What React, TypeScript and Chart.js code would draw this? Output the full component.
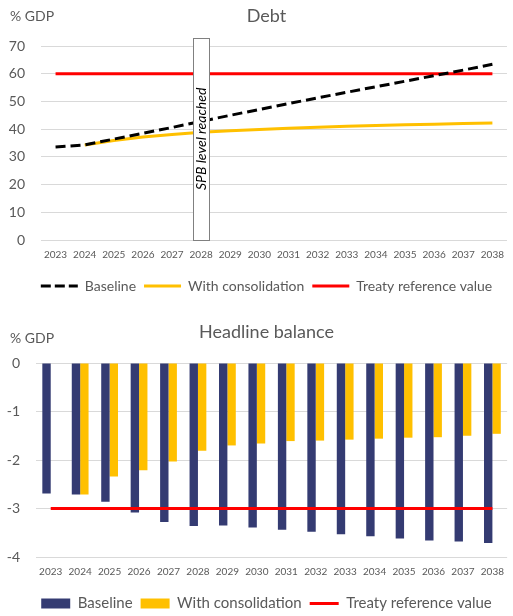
import React, { useEffect, useRef } from 'react';
import { Chart, registerables } from 'chart.js';

Chart.register(...registerables);
Chart.defaults.font.family = 'Lato';

const YEARS = ['2023', '2024', '2025', '2026', '2027', '2028', '2029', '2030', '2031', '2032', '2033', '2034', '2035', '2036', '2037', '2038'];

// Debt (% GDP)
const DEBT_BASELINE = [33.6, 34.3, 36.4, 38.5, 40.6, 42.8, 45.0, 47.1, 49.2, 51.3, 53.3, 55.3, 57.3, 59.3, 61.3, 63.4];
const DEBT_CONSOLIDATION = [null, 34.3, 35.9, 37.2, 38.1, 38.9, 39.4, 39.9, 40.3, 40.7, 41.0, 41.3, 41.6, 41.8, 42.0, 42.2];
const DEBT_TREATY = [60, 60, 60, 60, 60, 60, 60, 60, 60, 60, 60, 60, 60, 60, 60, 60];

// Headline balance (% GDP)
const BAL_BASELINE = [-2.69, -2.71, -2.86, -3.08, -3.28, -3.36, -3.35, -3.39, -3.44, -3.48, -3.53, -3.57, -3.62, -3.66, -3.68, -3.71];
const BAL_CONSOLIDATION = [null, -2.71, -2.34, -2.21, -2.03, -1.81, -1.70, -1.66, -1.61, -1.60, -1.58, -1.56, -1.54, -1.53, -1.50, -1.46];
const BAL_TREATY = [-3, -3, -3, -3, -3, -3, -3, -3, -3, -3, -3, -3, -3, -3, -3, -3];

const DEBT_TICKS = { min: 0, max: 70, step: 10 };
const BAL_TICKS = { min: -4, max: 0, step: 1 };

const SPB_YEAR = '2028';
const SPB_LABEL = 'SPB level reached';
const SPB_BOX_TOP = 73;

const UNIT = '% GDP';
const TEXT = '#595959';
const NAVY = '#343B72';
const GOLD = '#FFC000';
const RED = '#FF0000';
const GRID = '#D9D9D9';

const unitLabelPlugin = {
  id: 'unitLabel',
  afterLayout(chart: any) {
    // let the y tick labels use the whole left margin (avoid clipping)
    if (chart.scales.y) chart.scales.y.left = 0;
  },
  afterDraw(chart: any, _args: any, opts: any) {
    const { ctx } = chart;
    ctx.save();
    ctx.font = '14px Lato';
    ctx.fillStyle = TEXT;
    ctx.textAlign = 'left';
    ctx.textBaseline = 'middle';
    ctx.fillText(opts.text, opts.x, opts.y);
    ctx.restore();
  },
};

const spbBoxPlugin = {
  id: 'spbBox',
  afterDatasetsDraw(chart: any) {
    const { ctx, scales } = chart;
    const idx = YEARS.indexOf(SPB_YEAR);
    const cx = scales.x.getPixelForValue(idx);
    const top = scales.y.getPixelForValue(SPB_BOX_TOP);
    const bottom = scales.y.getPixelForValue(0);
    const w = 16;
    ctx.save();
    ctx.fillStyle = '#FFFFFF';
    ctx.fillRect(cx - w / 2, top, w, bottom - top);
    ctx.strokeStyle = '#808080';
    ctx.lineWidth = 1;
    ctx.strokeRect(Math.round(cx - w / 2) + 0.5, Math.round(top) + 0.5, w, Math.round(bottom - top));
    ctx.translate(cx, (top + bottom) / 2);
    ctx.rotate(-Math.PI / 2);
    ctx.font = 'italic 14px Lato';
    ctx.fillStyle = '#000000';
    ctx.textAlign = 'center';
    ctx.textBaseline = 'middle';
    ctx.fillText(SPB_LABEL, 0, 0);
    ctx.restore();
  },
};

function legendLabels(items: any[]) {
  return (chart: any) =>
    chart.data.datasets.map((ds: any, i: number) => ({
      text: ds.label,
      fillStyle: items[i].fill,
      strokeStyle: items[i].stroke,
      lineWidth: items[i].lineWidth,
      lineDash: items[i].dash || [],
      lineCap: 'butt',
      pointStyle: items[i].style,
      datasetIndex: i,
      hidden: false,
      fontColor: TEXT,
    }));
}

export default function App() {
  const topRef = useRef<HTMLCanvasElement>(null);
  const botRef = useRef<HTMLCanvasElement>(null);

  useEffect(() => {
    const top = new Chart(topRef.current as HTMLCanvasElement, {
      type: 'line',
      data: {
        labels: YEARS,
        datasets: [
          { label: 'Baseline', data: DEBT_BASELINE, borderColor: '#000000', borderWidth: 3, borderDash: [10, 5], pointRadius: 0, tension: 0, fill: false },
          { label: 'With consolidation', data: DEBT_CONSOLIDATION as any, borderColor: GOLD, borderWidth: 3, pointRadius: 0, tension: 0, fill: false },
          { label: 'Treaty reference value', data: DEBT_TREATY, borderColor: RED, borderWidth: 3, pointRadius: 0, tension: 0, fill: false },
        ],
      },
      options: {
        responsive: false,
        animation: false,
        events: [],
        layout: { padding: { left: 20, right: 0, top: 0, bottom: 0 } },
        plugins: {
          title: { display: true, text: 'Debt', color: TEXT, font: { size: 18, weight: 'normal' }, padding: { top: 5, bottom: 19.4 } },
          legend: {
            position: 'bottom',
            labels: {
              usePointStyle: true,
              pointStyleWidth: 37,
              boxHeight: 3,
              padding: 8,
              color: TEXT,
              font: { size: 14 },
              generateLabels: legendLabels([
                { fill: '#000000', stroke: '#000000', lineWidth: 3, dash: [10, 4], style: 'line' },
                { fill: GOLD, stroke: GOLD, lineWidth: 3, style: 'line' },
                { fill: RED, stroke: RED, lineWidth: 3, style: 'line' },
              ]),
            },
          },
          tooltip: { enabled: false },
          unitLabel: { text: UNIT, x: 10, y: 16 },
        } as any,
        scales: {
          x: {
            offset: true,
            grid: { display: false, drawTicks: false },
            border: { display: false },
            ticks: { color: TEXT, font: { size: 10 }, padding: 9, maxRotation: 0, autoSkip: false },
            afterFit: (s: any) => { s.height = 31; },
          },
          y: {
            min: DEBT_TICKS.min,
            max: DEBT_TICKS.max,
            ticks: { stepSize: DEBT_TICKS.step, color: TEXT, font: { size: 14 }, padding: 16 },
            grid: { color: GRID, drawTicks: false },
            border: { display: false },
            afterFit: (s: any) => { s.width = 21; },
          },
        },
      },
      plugins: [unitLabelPlugin, spbBoxPlugin],
    });

    const bot = new Chart(botRef.current as HTMLCanvasElement, {
      type: 'bar',
      data: {
        labels: YEARS,
        datasets: [
          { type: 'bar', label: 'Baseline', data: BAL_BASELINE, backgroundColor: NAVY, borderWidth: 0, order: 1, categoryPercentage: 0.57, barPercentage: 1 },
          { type: 'bar', label: 'With consolidation', data: BAL_CONSOLIDATION as any, backgroundColor: GOLD, borderWidth: 0, order: 1, categoryPercentage: 0.57, barPercentage: 1 },
          { type: 'line', label: 'Treaty reference value', data: BAL_TREATY, borderColor: RED, borderWidth: 3, pointRadius: 0, fill: false, order: 0 } as any,
        ],
      },
      options: {
        responsive: false,
        animation: false,
        events: [],
        layout: { padding: { left: 20, right: 0, top: 0, bottom: 0 } },
        plugins: {
          title: { display: true, text: 'Headline balance', color: TEXT, font: { size: 18, weight: 'normal' }, padding: { top: 18.5, bottom: 19.9 } },
          legend: {
            position: 'bottom',
            labels: {
              usePointStyle: true,
              pointStyleWidth: 29,
              boxHeight: 10,
              padding: 8,
              color: TEXT,
              font: { size: 15 },
              generateLabels: legendLabels([
                { fill: NAVY, stroke: NAVY, lineWidth: 0, style: 'rect' },
                { fill: GOLD, stroke: GOLD, lineWidth: 0, style: 'rect' },
                { fill: RED, stroke: RED, lineWidth: 3, style: 'line' },
              ]),
            },
          },
          tooltip: { enabled: false },
          unitLabel: { text: UNIT, x: 10, y: 35.5 },
        } as any,
        scales: {
          x: {
            offset: true,
            grid: { display: false, drawTicks: false },
            border: { display: false },
            ticks: { color: TEXT, font: { size: 10 }, padding: 9, maxRotation: 0, autoSkip: false },
            afterFit: (s: any) => { s.height = 31; },
          },
          y: {
            min: BAL_TICKS.min,
            max: BAL_TICKS.max,
            ticks: { stepSize: BAL_TICKS.step, color: TEXT, font: { size: 14 }, padding: 16 },
            grid: { color: GRID, drawTicks: false },
            border: { display: false },
            afterFit: (s: any) => { s.width = 16; },
          },
        },
      },
      plugins: [unitLabelPlugin],
    });

    return () => {
      top.destroy();
      bot.destroy();
    };
  }, []);

  return (
    <div style={{ position: 'fixed', left: 0, top: 0, width: 513, height: 616, overflow: 'hidden', background: '#FFFFFF' }}>
      <canvas ref={topRef} width={513} height={303} style={{ display: 'block', width: 513, height: 303 }} />
      <canvas ref={botRef} width={513} height={318} style={{ display: 'block', width: 513, height: 318 }} />
    </div>
  );
}
